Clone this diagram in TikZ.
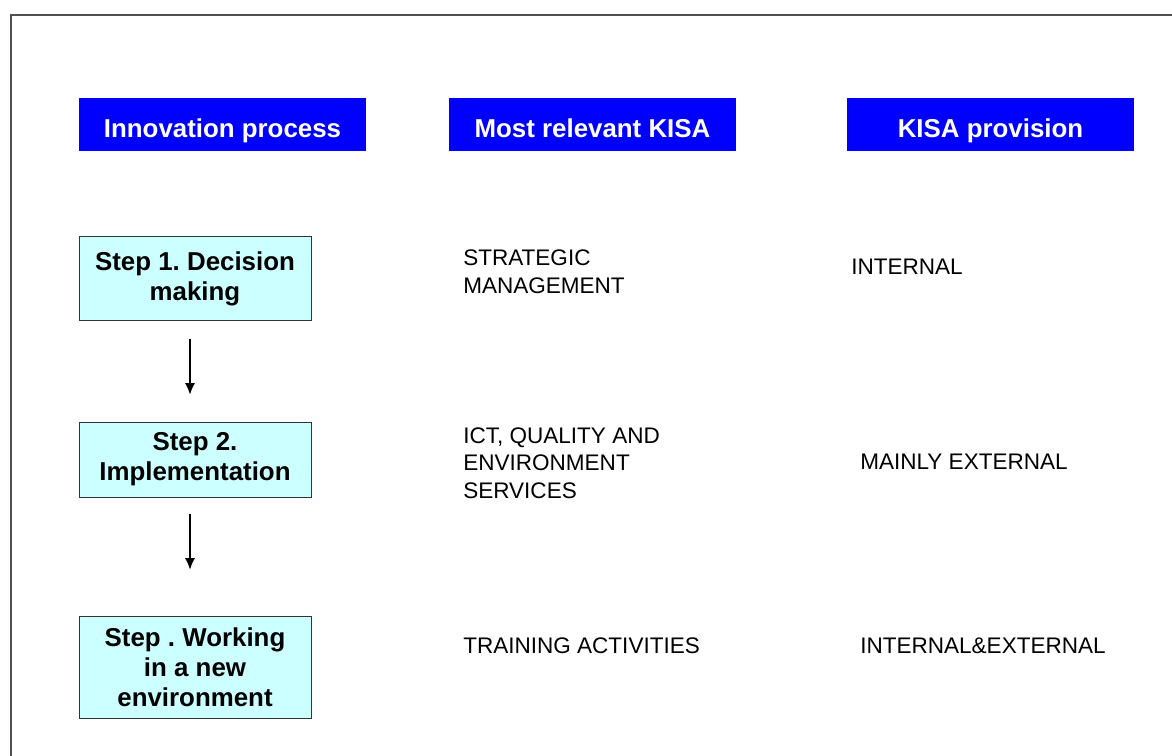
\documentclass[tikz,border=0pt]{standalone}
\usepackage{fontspec}
\setmainfont{Liberation Sans}
\usepackage{xcolor}
\usepackage{tikz}
\usetikzlibrary{arrows.meta}

\definecolor{headblue}{RGB}{0,0,255}
\definecolor{stepcyan}{RGB}{204,255,255}
\definecolor{framegray}{RGB}{80,80,80}

\frenchspacing

\begin{document}
\begin{tikzpicture}[x=0.75pt,y=-0.75pt]
	\tikzstyle{every node}=[font=\fontsize{16.9}{20.8}\selectfont];
	\tikzstyle{headbox}=[fill=headblue, text=white, minimum width=215.25pt, minimum height=39.75pt, inner sep=0pt, text height=20.25pt, text depth=0pt, font=\fontsize{19.4}{22.5}\selectfont\bfseries];
	\tikzstyle{stepbox}=[draw=black!80, line width=0.75pt, fill=stepcyan, minimum width=174pt, inner sep=0pt, align=center, font=\fontsize{19.4}{22.5}\selectfont\bfseries];
	\tikzstyle{kisa}=[anchor=west, align=left, inner sep=0pt];
	\tikzstyle{flow}=[-{Latex[length=8.5pt,width=7.5pt]}, line width=0.9pt];
	
	\useasboundingbox (0,0) rectangle (1172,756);
	
	%Frame
	\draw[framegray, line width=0.9pt] (11,756) -- (11,15) -- (1172,15);
	
	%Headings
	\node[headbox] (hproc) at (222.5,124.5) {Innovation process};
	\node[headbox] (hkisa) at (592.5,124.5) {Most relevant KISA};
	\node[headbox] (hprov) at (990.5,124.5) {KISA provision};
	
	%Steps
	\node[stepbox, minimum height=62.25pt] (s1) at (195,278.5) {Step 1. Decision\\making};
	\node[stepbox, minimum height=56.25pt] (s2) at (195,459.5) {Step 2.\\Implementation};
	\node[stepbox, minimum height=76.5pt] (s3) at (195,667) {Step . Working\\in a new\\environment};
	
	%Arrows
	\draw[flow] ([xshift=-3.75pt,yshift=-13.5pt]s1.south) -- ([xshift=-3.75pt,yshift=20.25pt]s2.north);
	\draw[flow] ([xshift=-3.75pt,yshift=-12pt]s2.south) -- ([xshift=-3.75pt,yshift=34.5pt]s3.north);
	
	%Most relevant KISA
	\node[kisa] (k1) at (463,272) {STRATEGIC\\MANAGEMENT};
	\node[kisa] (k2) at (463,463) {ICT, QUALITY AND\\ENVIRONMENT\\SERVICES};
	\node[kisa] (k3) at (463,646) {TRAINING ACTIVITIES};
	
	%KISA provision
	\node[kisa] (p1) at (851,266.5) {INTERNAL};
	\node[kisa] (p2) at (860,462) {MAINLY EXTERNAL};
	\node[kisa] (p3) at (860,646) {INTERNAL\&EXTERNAL};
\end{tikzpicture}
\end{document}
